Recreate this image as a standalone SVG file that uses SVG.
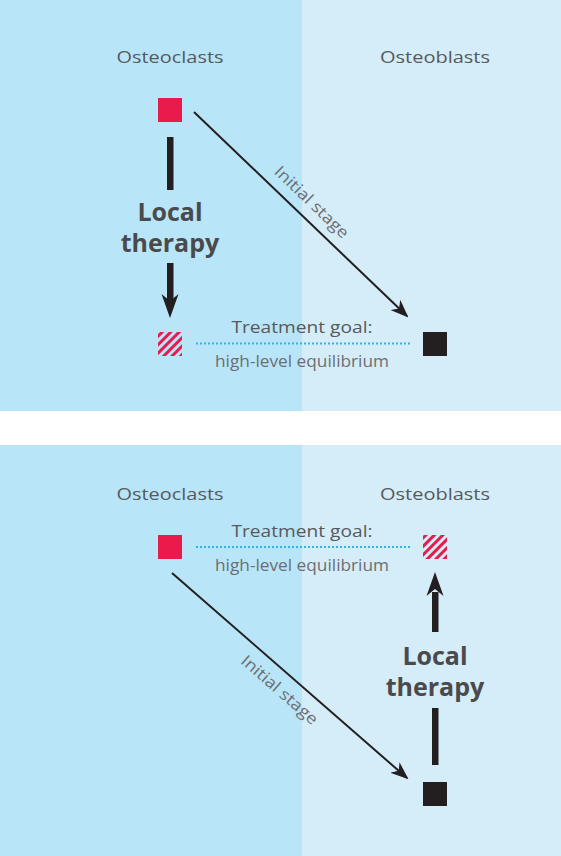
<svg xmlns="http://www.w3.org/2000/svg" width="561" height="856" viewBox="0 0 561 856">
<defs>
<style>
.bgL{fill:#b9e5f9}
.bgR{fill:#d5ecf9}
.lbl{font-family:"Open Sans","Noto Sans",sans-serif;font-size:17px;fill:#58595b;text-anchor:middle}
.sub{font-family:"Open Sans","Noto Sans",sans-serif;font-size:17px;fill:#6d6e70;text-anchor:middle}
.stage{font-family:"Open Sans","Noto Sans",sans-serif;font-size:16px;fill:#6d6e70;text-anchor:middle}
.big{font-family:"Open Sans","Noto Sans",sans-serif;font-size:25px;font-weight:bold;fill:#4a4a4c;text-anchor:middle}
.diag{stroke:#231f20;stroke-width:2;fill:none}
.dot{stroke:#29b6e8;stroke-width:2;stroke-dasharray:2 2;fill:none}
.red{fill:#ea1a4b}
.blk{fill:#231f20}
</style>
<pattern id="hatch" patternUnits="userSpaceOnUse" width="6" height="6" patternTransform="rotate(45)">
<rect x="0" y="0" width="3" height="6" fill="#ea1a4b"/>
</pattern>
<marker id="ah" markerUnits="userSpaceOnUse" markerWidth="18" markerHeight="14" viewBox="0 0 18 14" refX="16" refY="7" orient="auto">
<path d="M0,0 L18,7 L0,14 L5,7 z" fill="#231f20"/>
</marker>
</defs>

<g id="panel1-bg">
<rect class="bgL" x="0" y="0" width="302" height="411"/>
<rect class="bgR" x="302" y="0" width="259" height="411"/>
</g>
<g id="panel2-bg">
<rect class="bgL" x="0" y="445" width="302" height="411"/>
<rect class="bgR" x="302" y="445" width="259" height="411"/>
</g>

<!-- Panel 1 -->
<g id="p1-osteoclasts-label"><text class="lbl" x="170" y="63" textLength="107" lengthAdjust="spacingAndGlyphs">Osteoclasts</text></g>
<g id="p1-osteoblasts-label"><text class="lbl" x="435" y="63" textLength="110" lengthAdjust="spacingAndGlyphs">Osteoblasts</text></g>
<g id="p1-osteoclast-initial"><rect class="red" x="158" y="98" width="24" height="24"/></g>
<g id="p1-osteoclast-goal"><rect fill="url(#hatch)" x="158" y="332" width="24" height="24"/></g>
<g id="p1-osteoblast"><rect class="blk" x="423" y="332" width="24" height="24"/></g>
<g id="p1-goal-label">
<text class="lbl" x="302" y="333" textLength="141" lengthAdjust="spacingAndGlyphs">Treatment goal:</text>
<text class="sub" x="302" y="367" textLength="174" lengthAdjust="spacingAndGlyphs">high-level equilibrium</text>
</g>
<g id="p1-therapy-label">
<text class="big" x="170" y="221">Local</text>
<text class="big" x="170" y="252">therapy</text>
</g>
<g id="p1-stage-label"><text class="stage" transform="translate(308,206) rotate(43.8)" textLength="96" lengthAdjust="spacingAndGlyphs">Initial stage</text></g>

<!-- Panel 2 -->
<g id="p2-osteoclasts-label"><text class="lbl" x="170" y="500" textLength="107" lengthAdjust="spacingAndGlyphs">Osteoclasts</text></g>
<g id="p2-osteoblasts-label"><text class="lbl" x="435" y="500" textLength="110" lengthAdjust="spacingAndGlyphs">Osteoblasts</text></g>
<g id="p2-osteoclast"><rect class="red" x="158" y="535" width="24" height="24"/></g>
<g id="p2-osteoblast-goal"><rect fill="url(#hatch)" x="423" y="535" width="24" height="24"/></g>
<g id="p2-osteoblast-initial"><rect class="blk" x="423" y="782" width="24" height="24"/></g>
<g id="p2-goal-label">
<text class="lbl" x="302" y="537" textLength="141" lengthAdjust="spacingAndGlyphs">Treatment goal:</text>
<text class="sub" x="302" y="571" textLength="174" lengthAdjust="spacingAndGlyphs">high-level equilibrium</text>
</g>
<g id="p2-therapy-label">
<text class="big" x="435" y="665">Local</text>
<text class="big" x="435" y="696">therapy</text>
</g>
<g id="p2-stage-label"><text class="stage" transform="translate(276,694) rotate(41.1)" textLength="96" lengthAdjust="spacingAndGlyphs">Initial stage</text></g>

<g id="connectors">
<line class="diag" x1="194" y1="112" x2="407" y2="316" marker-end="url(#ah)"/>
<line class="dot" x1="196" y1="343.5" x2="410" y2="343.5"/>
<rect class="blk" x="167" y="137" width="6.5" height="53"/>
<rect class="blk" x="167" y="263" width="6.5" height="38"/>
<path class="blk" d="M170,318 L161.5,294 L170,301 L178.5,294 z"/>

<line class="diag" x1="172" y1="573" x2="407" y2="778" marker-end="url(#ah)"/>
<line class="dot" x1="196" y1="547" x2="410" y2="547"/>
<rect class="blk" x="432" y="708" width="6.5" height="57"/>
<rect class="blk" x="432" y="592" width="6.5" height="40"/>
<path class="blk" d="M435,572 L426.5,596 L435,589 L443.5,596 z"/>
</g>
</svg>
